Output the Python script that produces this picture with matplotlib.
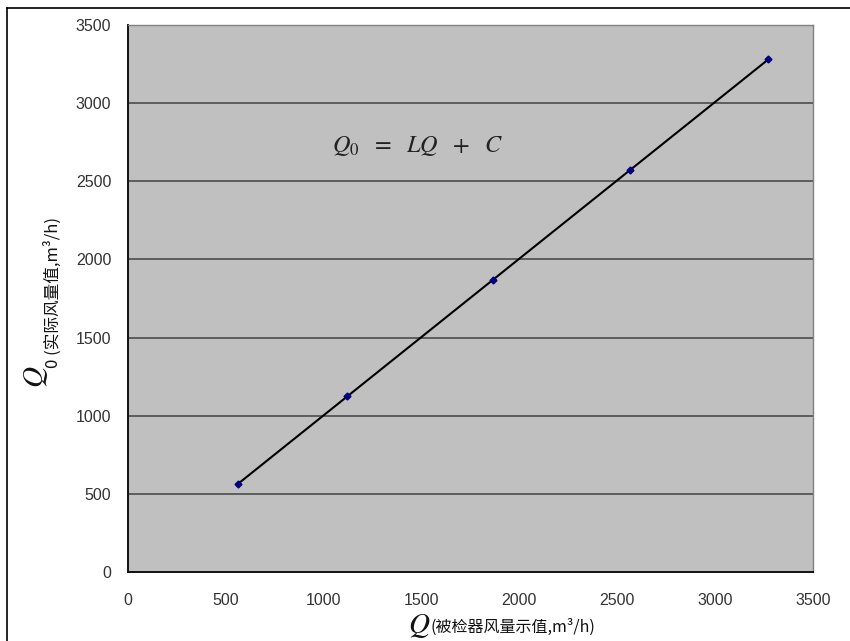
import numpy as np
import matplotlib.pyplot as plt
from matplotlib.lines import Line2D

plt.rcParams['mathtext.fontset'] = 'stix'

# data
q_shown = [560, 1120, 1865, 2565, 3270]
q_real = [562, 1125, 1868, 2570, 3280]
ticks = [0, 500, 1000, 1500, 2000, 2500, 3000, 3500]

W, H = 850, 641
fig = plt.figure(figsize=(W / 100, H / 100), dpi=100)
ax = fig.add_axes([128 / W, (H - 572) / H, 685 / W, 547 / H])
ax.set_facecolor('#c0c0c0')

ax.set_xlim(0, 3500)
ax.set_ylim(0, 3500)
ax.set_xticks(ticks)
ax.set_yticks(ticks)
ax.tick_params(length=0, labelsize=11.5, labelcolor='#333333')
ax.tick_params(axis='x', pad=15)
ax.tick_params(axis='y', pad=12)
for lab in ax.get_xticklabels() + ax.get_yticklabels():
    lab.set_family('Liberation Sans')

for v in ticks[1:-1]:
    ax.axhline(v, color='#555555', lw=1.3, zorder=1)

for s in ['top', 'right']:
    ax.spines[s].set_color('#808080')
    ax.spines[s].set_linewidth(1.0)
for s in ['left', 'bottom']:
    ax.spines[s].set_color('#111111')
    ax.spines[s].set_linewidth(1.4)

# fitted line and the measured points
k, b = np.polyfit(q_shown, q_real, 1)
xs = np.array([q_shown[0], q_shown[-1]])
ax.plot(xs, k * xs + b, color='black', lw=1.5, zorder=3)
ax.plot(q_shown, q_real, 'D', color='#000080', markersize=3.5, zorder=4)

ax.text(0.298, 0.768, r'$Q_0\ \ =\ \ LQ\ \ +\ \ C$', transform=ax.transAxes,
        fontsize=17.5, color='#222222', va='baseline')

cjk = ['Noto Sans CJK SC', 'DejaVu Sans']

# x label
fig.text(408 / W, 1 - 633 / H, r'$Q$', fontsize=21, color='#111111',
         ha='left', va='baseline')
fig.text(430 / W, 1 - 632 / H, '(被检器风量示值,m³/h)', fontsize=11.5,
         family=cjk, color='#111111', ha='left', va='baseline')

# y label
fig.text(43 / W, 1 - 388 / H, r'$Q$', fontsize=21, color='#111111',
         rotation=90, rotation_mode='anchor', ha='left', va='baseline')
fig.text(58 / W, 1 - 368 / H, '0 (实际风量值,m³/h)', fontsize=12,
         family=cjk, color='#111111', rotation=90, rotation_mode='anchor',
         ha='left', va='baseline')

# outer chart border (cut off at right and bottom)
fig.add_artist(Line2D([7 / W, 7 / W], [-0.1, 1 - 8 / H], color='black', lw=1.2))
fig.add_artist(Line2D([7 / W, 1.1], [1 - 8 / H, 1 - 8 / H], color='black', lw=1.2))

fig.savefig('out.png', dpi=100)
